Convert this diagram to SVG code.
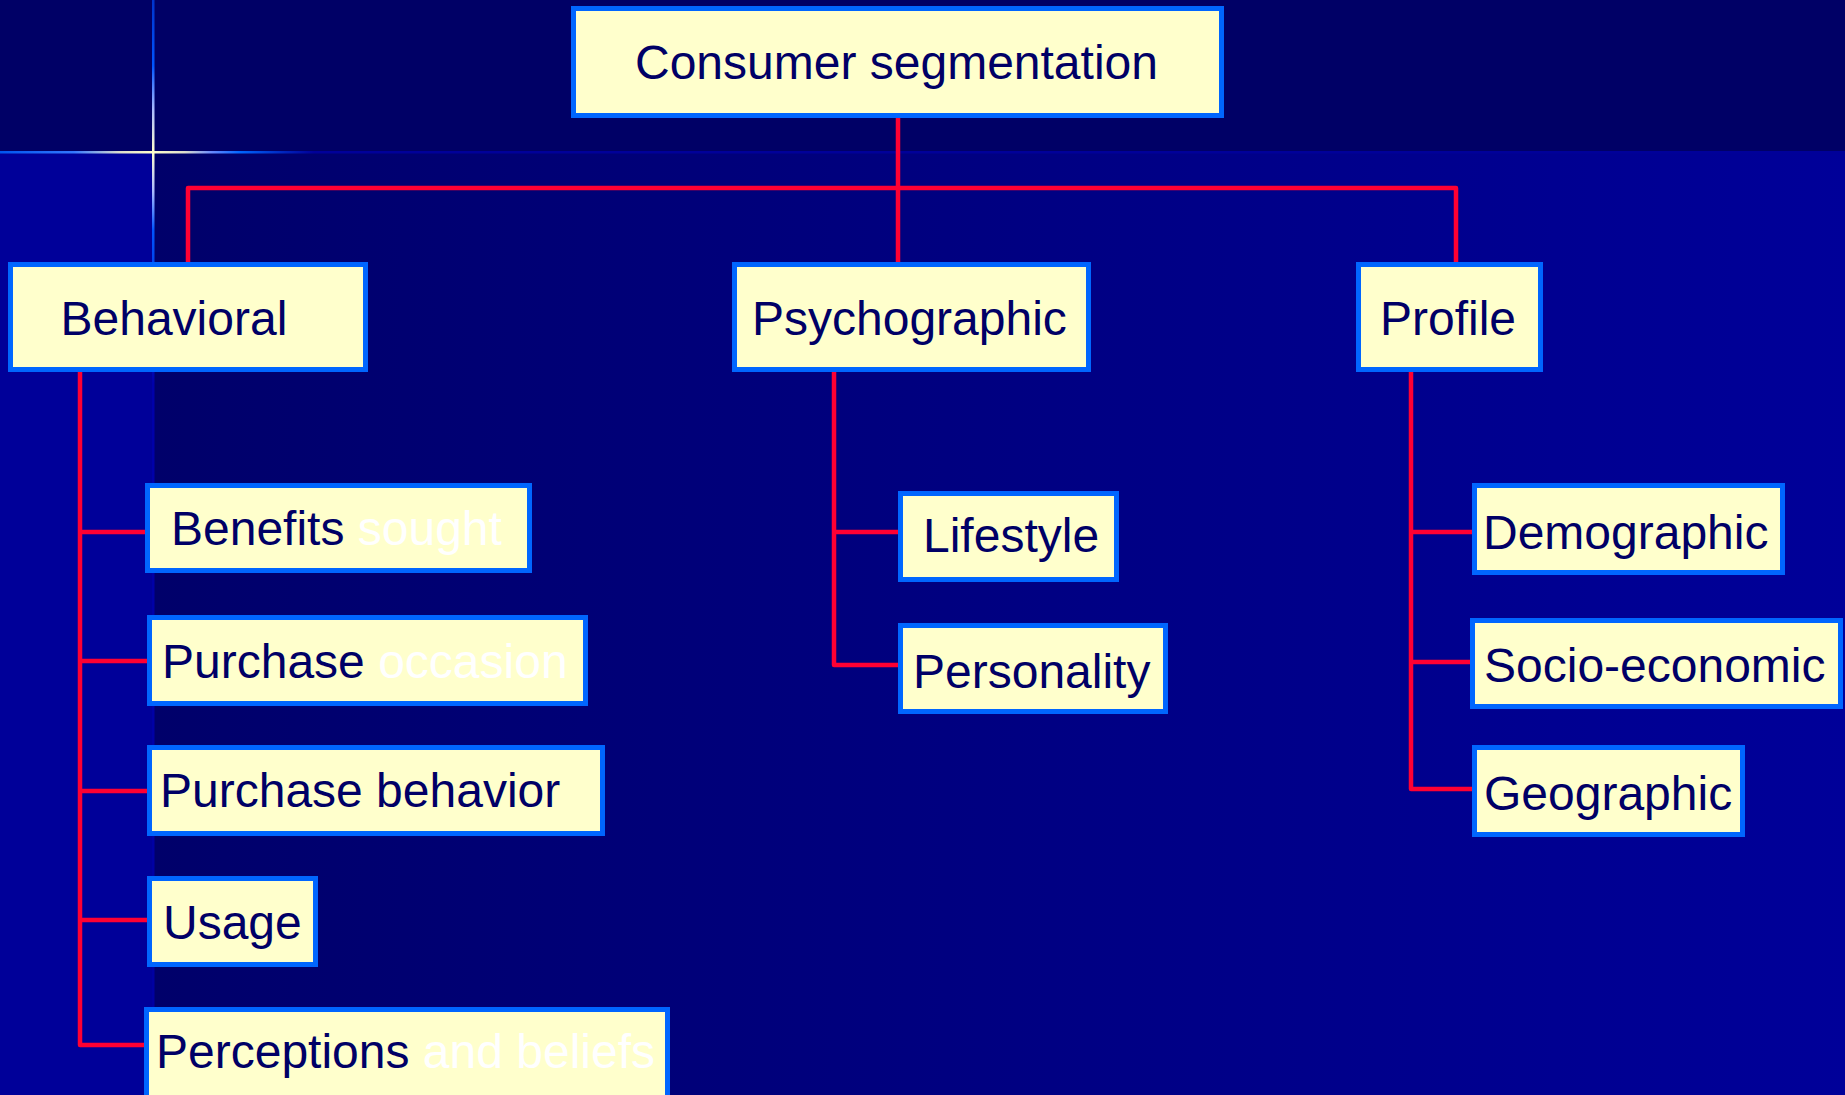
<svg xmlns="http://www.w3.org/2000/svg" width="1845" height="1095" viewBox="0 0 1845 1095">
<defs>
<linearGradient id="bg" gradientUnits="userSpaceOnUse" x1="152" y1="0" x2="1845" y2="0">
<stop offset="0" stop-color="#00006a"/>
<stop offset="1" stop-color="#000099"/>
</linearGradient>
<linearGradient id="starV" gradientUnits="userSpaceOnUse" x1="0" y1="0" x2="0" y2="1095">
<stop offset="0" stop-color="#0033cc"/>
<stop offset="0.06" stop-color="#0055ff"/>
<stop offset="0.1" stop-color="#aabbff"/>
<stop offset="0.139" stop-color="#ffffcc"/>
<stop offset="0.175" stop-color="#aabbff"/>
<stop offset="0.21" stop-color="#0055ff"/>
<stop offset="0.24" stop-color="#0044ee"/>
<stop offset="0.35" stop-color="#0000aa"/>
<stop offset="1" stop-color="#0000a0"/>
</linearGradient>
<linearGradient id="starH" gradientUnits="userSpaceOnUse" x1="0" y1="0" x2="1845" y2="0">
<stop offset="0" stop-color="#0055ee"/>
<stop offset="0.04" stop-color="#3377ff"/>
<stop offset="0.065" stop-color="#ddddcc"/>
<stop offset="0.083" stop-color="#ffffcc"/>
<stop offset="0.1" stop-color="#ddddcc"/>
<stop offset="0.115" stop-color="#6688ff"/>
<stop offset="0.13" stop-color="#0066ff"/>
<stop offset="0.155" stop-color="#0022bb"/>
<stop offset="0.17" stop-color="#000099"/>
<stop offset="1" stop-color="#000099"/>
</linearGradient>
</defs>
<style>
.box{fill:#ffffcc;stroke:#0066ff;stroke-width:5}
.lbl{font-family:"Liberation Sans",Arial,sans-serif;font-size:48px;fill:#000066}
.hid{fill:#ffffff}
.con{fill:none;stroke:#ff0033;stroke-width:4.5;stroke-linejoin:round}
</style>
<g id="background">
<rect x="0" y="0" width="1845" height="1095" fill="url(#bg)"/>
<rect x="0" y="0" width="1845" height="153" fill="#000066"/>
<rect x="0" y="153" width="153" height="942" fill="#000099"/>
<rect x="152" y="0" width="2.5" height="1095" fill="url(#starV)"/>
<rect x="0" y="151" width="1845" height="2.5" fill="url(#starH)"/>
</g>
<g id="connectors">
<path class="con" d="M898 118 V262"/>
<path class="con" d="M188 262 V188 H1456 V262"/>
<path class="con" d="M80 372 V1045 H145"/>
<path class="con" d="M80 532 H147"/>
<path class="con" d="M80 661 H149"/>
<path class="con" d="M80 791 H149"/>
<path class="con" d="M80 920 H149"/>
<path class="con" d="M834 372 V665 H900"/>
<path class="con" d="M834 532 H900"/>
<path class="con" d="M1411 372 V789 H1474"/>
<path class="con" d="M1411 532 H1474"/>
<path class="con" d="M1411 662 H1472"/>
</g>
<g id="consumer-segmentation">
<rect class="box" x="573.5" y="8.5" width="648" height="107"/>
<text class="lbl" x="635" y="79">Consumer segmentation</text>
</g>
<g id="behavioral">
<rect class="box" x="10.5" y="264.5" width="355" height="105"/>
<text class="lbl" x="60.5" y="335">Behavioral</text>
</g>
<g id="psychographic">
<rect class="box" x="734.5" y="264.5" width="354" height="105"/>
<text class="lbl" x="752" y="335">Psychographic</text>
</g>
<g id="profile">
<rect class="box" x="1358.5" y="264.5" width="182" height="105"/>
<text class="lbl" x="1380" y="335">Profile</text>
</g>
<g id="benefits-sought">
<rect class="box" x="147.5" y="485.5" width="382" height="85"/>
<text class="lbl" x="171" y="545">Benefits <tspan class="hid">sought</tspan></text>
</g>
<g id="purchase-occasion">
<rect class="box" x="149.5" y="617.5" width="436" height="86"/>
<text class="lbl" x="162" y="678">Purchase <tspan class="hid">occasion</tspan></text>
</g>
<g id="purchase-behavior">
<rect class="box" x="149.5" y="747.5" width="453" height="86"/>
<text class="lbl" x="160" y="807">Purchase behavior</text>
</g>
<g id="usage">
<rect class="box" x="149.5" y="878.5" width="166" height="86"/>
<text class="lbl" x="163" y="939">Usage</text>
</g>
<g id="perceptions-and-beliefs">
<rect class="box" x="146.5" y="1009.5" width="521" height="90"/>
<text class="lbl" x="156" y="1068">Perceptions <tspan class="hid">and beliefs</tspan></text>
</g>
<g id="lifestyle">
<rect class="box" x="900.5" y="493.5" width="216" height="86"/>
<text class="lbl" x="923" y="552">Lifestyle</text>
</g>
<g id="personality">
<rect class="box" x="900.5" y="625.5" width="265" height="86"/>
<text class="lbl" x="913" y="688">Personality</text>
</g>
<g id="demographic">
<rect class="box" x="1474.5" y="485.5" width="308" height="87"/>
<text class="lbl" x="1483" y="549">Demographic</text>
</g>
<g id="socio-economic">
<rect class="box" x="1472.5" y="620.5" width="368" height="86"/>
<text class="lbl" x="1484" y="682">Socio-economic</text>
</g>
<g id="geographic">
<rect class="box" x="1474.5" y="747.5" width="268" height="87"/>
<text class="lbl" x="1484" y="810">Geographic</text>
</g>
</svg>
